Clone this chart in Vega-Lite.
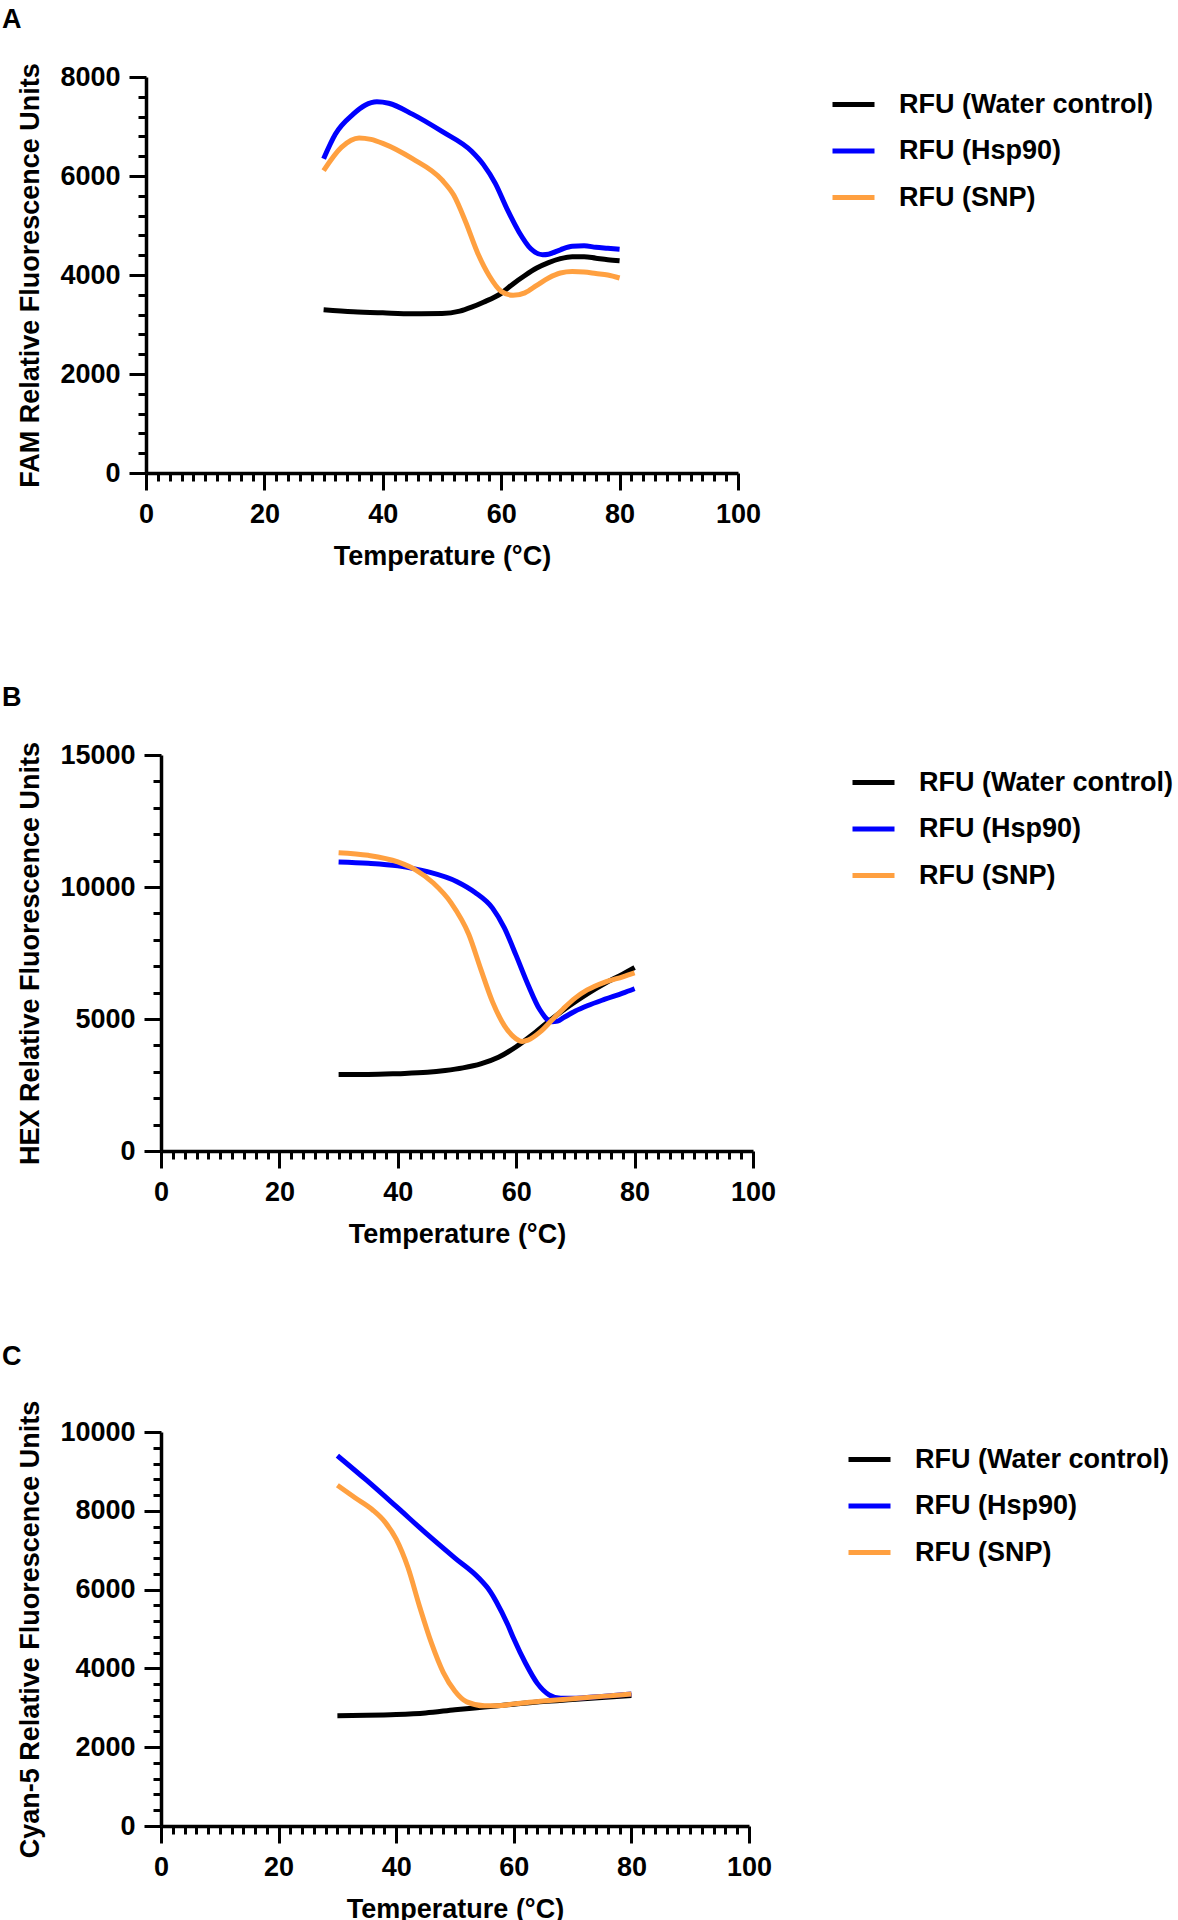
{
  "$schema": "https://vega.github.io/schema/vega-lite/v6.json",
  "background": "white",
  "padding": {"left": 0, "top": 5, "right": 0, "bottom": 0},
  "datasets": {
    "panelA": [
      {"temp": 30, "rfu": 3300, "series": "RFU (Water control)"},
      {"temp": 35, "rfu": 3260, "series": "RFU (Water control)"},
      {"temp": 40, "rfu": 3235, "series": "RFU (Water control)"},
      {"temp": 45, "rfu": 3215, "series": "RFU (Water control)"},
      {"temp": 50, "rfu": 3220, "series": "RFU (Water control)"},
      {"temp": 53, "rfu": 3270, "series": "RFU (Water control)"},
      {"temp": 55, "rfu": 3350, "series": "RFU (Water control)"},
      {"temp": 57, "rfu": 3450, "series": "RFU (Water control)"},
      {"temp": 60, "rfu": 3630, "series": "RFU (Water control)"},
      {"temp": 62, "rfu": 3820, "series": "RFU (Water control)"},
      {"temp": 64, "rfu": 3990, "series": "RFU (Water control)"},
      {"temp": 66, "rfu": 4140, "series": "RFU (Water control)"},
      {"temp": 68, "rfu": 4250, "series": "RFU (Water control)"},
      {"temp": 70, "rfu": 4330, "series": "RFU (Water control)"},
      {"temp": 72, "rfu": 4370, "series": "RFU (Water control)"},
      {"temp": 74, "rfu": 4370, "series": "RFU (Water control)"},
      {"temp": 76, "rfu": 4340, "series": "RFU (Water control)"},
      {"temp": 78, "rfu": 4310, "series": "RFU (Water control)"},
      {"temp": 80, "rfu": 4290, "series": "RFU (Water control)"},
      {"temp": 30, "rfu": 6350, "series": "RFU (Hsp90)"},
      {"temp": 32, "rfu": 6850, "series": "RFU (Hsp90)"},
      {"temp": 35, "rfu": 7250, "series": "RFU (Hsp90)"},
      {"temp": 37, "rfu": 7430, "series": "RFU (Hsp90)"},
      {"temp": 39, "rfu": 7500, "series": "RFU (Hsp90)"},
      {"temp": 41, "rfu": 7470, "series": "RFU (Hsp90)"},
      {"temp": 45, "rfu": 7250, "series": "RFU (Hsp90)"},
      {"temp": 50, "rfu": 6900, "series": "RFU (Hsp90)"},
      {"temp": 55, "rfu": 6500, "series": "RFU (Hsp90)"},
      {"temp": 57, "rfu": 6230, "series": "RFU (Hsp90)"},
      {"temp": 59, "rfu": 5850, "series": "RFU (Hsp90)"},
      {"temp": 61, "rfu": 5330, "series": "RFU (Hsp90)"},
      {"temp": 63, "rfu": 4870, "series": "RFU (Hsp90)"},
      {"temp": 65, "rfu": 4530, "series": "RFU (Hsp90)"},
      {"temp": 67, "rfu": 4410, "series": "RFU (Hsp90)"},
      {"temp": 68, "rfu": 4420, "series": "RFU (Hsp90)"},
      {"temp": 70, "rfu": 4510, "series": "RFU (Hsp90)"},
      {"temp": 72, "rfu": 4580, "series": "RFU (Hsp90)"},
      {"temp": 74, "rfu": 4590, "series": "RFU (Hsp90)"},
      {"temp": 76, "rfu": 4560, "series": "RFU (Hsp90)"},
      {"temp": 78, "rfu": 4540, "series": "RFU (Hsp90)"},
      {"temp": 80, "rfu": 4520, "series": "RFU (Hsp90)"},
      {"temp": 30, "rfu": 6110, "series": "RFU (SNP)"},
      {"temp": 33, "rfu": 6580, "series": "RFU (SNP)"},
      {"temp": 36, "rfu": 6770, "series": "RFU (SNP)"},
      {"temp": 38, "rfu": 6740, "series": "RFU (SNP)"},
      {"temp": 40, "rfu": 6660, "series": "RFU (SNP)"},
      {"temp": 45, "rfu": 6350, "series": "RFU (SNP)"},
      {"temp": 50, "rfu": 5920, "series": "RFU (SNP)"},
      {"temp": 52, "rfu": 5610, "series": "RFU (SNP)"},
      {"temp": 54, "rfu": 5070, "series": "RFU (SNP)"},
      {"temp": 56, "rfu": 4450, "series": "RFU (SNP)"},
      {"temp": 58, "rfu": 3980, "series": "RFU (SNP)"},
      {"temp": 60, "rfu": 3670, "series": "RFU (SNP)"},
      {"temp": 62, "rfu": 3590, "series": "RFU (SNP)"},
      {"temp": 64, "rfu": 3640, "series": "RFU (SNP)"},
      {"temp": 66, "rfu": 3790, "series": "RFU (SNP)"},
      {"temp": 68, "rfu": 3940, "series": "RFU (SNP)"},
      {"temp": 70, "rfu": 4040, "series": "RFU (SNP)"},
      {"temp": 72, "rfu": 4070, "series": "RFU (SNP)"},
      {"temp": 74, "rfu": 4060, "series": "RFU (SNP)"},
      {"temp": 76, "rfu": 4030, "series": "RFU (SNP)"},
      {"temp": 78, "rfu": 4000, "series": "RFU (SNP)"},
      {"temp": 80, "rfu": 3940, "series": "RFU (SNP)"}
    ],
    "panelB": [
      {"temp": 30, "rfu": 2900, "series": "RFU (Water control)"},
      {"temp": 35, "rfu": 2900, "series": "RFU (Water control)"},
      {"temp": 40, "rfu": 2930, "series": "RFU (Water control)"},
      {"temp": 45, "rfu": 2980, "series": "RFU (Water control)"},
      {"temp": 48, "rfu": 3050, "series": "RFU (Water control)"},
      {"temp": 51, "rfu": 3150, "series": "RFU (Water control)"},
      {"temp": 54, "rfu": 3300, "series": "RFU (Water control)"},
      {"temp": 57, "rfu": 3550, "series": "RFU (Water control)"},
      {"temp": 60, "rfu": 3950, "series": "RFU (Water control)"},
      {"temp": 63, "rfu": 4450, "series": "RFU (Water control)"},
      {"temp": 66, "rfu": 5000, "series": "RFU (Water control)"},
      {"temp": 69, "rfu": 5500, "series": "RFU (Water control)"},
      {"temp": 72, "rfu": 5950, "series": "RFU (Water control)"},
      {"temp": 75, "rfu": 6350, "series": "RFU (Water control)"},
      {"temp": 78, "rfu": 6700, "series": "RFU (Water control)"},
      {"temp": 80, "rfu": 6950, "series": "RFU (Water control)"},
      {"temp": 30, "rfu": 10950, "series": "RFU (Hsp90)"},
      {"temp": 35, "rfu": 10900, "series": "RFU (Hsp90)"},
      {"temp": 40, "rfu": 10800, "series": "RFU (Hsp90)"},
      {"temp": 45, "rfu": 10580, "series": "RFU (Hsp90)"},
      {"temp": 50, "rfu": 10200, "series": "RFU (Hsp90)"},
      {"temp": 53, "rfu": 9800, "series": "RFU (Hsp90)"},
      {"temp": 56, "rfu": 9200, "series": "RFU (Hsp90)"},
      {"temp": 58, "rfu": 8450, "series": "RFU (Hsp90)"},
      {"temp": 60, "rfu": 7400, "series": "RFU (Hsp90)"},
      {"temp": 62, "rfu": 6300, "series": "RFU (Hsp90)"},
      {"temp": 64, "rfu": 5350, "series": "RFU (Hsp90)"},
      {"temp": 66, "rfu": 4900, "series": "RFU (Hsp90)"},
      {"temp": 67, "rfu": 4920, "series": "RFU (Hsp90)"},
      {"temp": 68, "rfu": 5050, "series": "RFU (Hsp90)"},
      {"temp": 70, "rfu": 5300, "series": "RFU (Hsp90)"},
      {"temp": 72, "rfu": 5500, "series": "RFU (Hsp90)"},
      {"temp": 75, "rfu": 5750, "series": "RFU (Hsp90)"},
      {"temp": 78, "rfu": 5980, "series": "RFU (Hsp90)"},
      {"temp": 80, "rfu": 6150, "series": "RFU (Hsp90)"},
      {"temp": 30, "rfu": 11300, "series": "RFU (SNP)"},
      {"temp": 35, "rfu": 11200, "series": "RFU (SNP)"},
      {"temp": 40, "rfu": 10950, "series": "RFU (SNP)"},
      {"temp": 43, "rfu": 10650, "series": "RFU (SNP)"},
      {"temp": 46, "rfu": 10150, "series": "RFU (SNP)"},
      {"temp": 49, "rfu": 9400, "series": "RFU (SNP)"},
      {"temp": 52, "rfu": 8200, "series": "RFU (SNP)"},
      {"temp": 54, "rfu": 6900, "series": "RFU (SNP)"},
      {"temp": 56, "rfu": 5650, "series": "RFU (SNP)"},
      {"temp": 58, "rfu": 4750, "series": "RFU (SNP)"},
      {"temp": 60, "rfu": 4250, "series": "RFU (SNP)"},
      {"temp": 61, "rfu": 4150, "series": "RFU (SNP)"},
      {"temp": 62, "rfu": 4200, "series": "RFU (SNP)"},
      {"temp": 64, "rfu": 4500, "series": "RFU (SNP)"},
      {"temp": 66, "rfu": 4950, "series": "RFU (SNP)"},
      {"temp": 68, "rfu": 5400, "series": "RFU (SNP)"},
      {"temp": 70, "rfu": 5800, "series": "RFU (SNP)"},
      {"temp": 72, "rfu": 6100, "series": "RFU (SNP)"},
      {"temp": 75, "rfu": 6400, "series": "RFU (SNP)"},
      {"temp": 78, "rfu": 6600, "series": "RFU (SNP)"},
      {"temp": 80, "rfu": 6750, "series": "RFU (SNP)"}
    ],
    "panelC": [
      {"temp": 30, "rfu": 2800, "series": "RFU (Water control)"},
      {"temp": 35, "rfu": 2810, "series": "RFU (Water control)"},
      {"temp": 40, "rfu": 2830, "series": "RFU (Water control)"},
      {"temp": 45, "rfu": 2870, "series": "RFU (Water control)"},
      {"temp": 50, "rfu": 2950, "series": "RFU (Water control)"},
      {"temp": 55, "rfu": 3020, "series": "RFU (Water control)"},
      {"temp": 60, "rfu": 3090, "series": "RFU (Water control)"},
      {"temp": 65, "rfu": 3160, "series": "RFU (Water control)"},
      {"temp": 70, "rfu": 3210, "series": "RFU (Water control)"},
      {"temp": 75, "rfu": 3260, "series": "RFU (Water control)"},
      {"temp": 80, "rfu": 3310, "series": "RFU (Water control)"},
      {"temp": 30, "rfu": 9400, "series": "RFU (Hsp90)"},
      {"temp": 35, "rfu": 8770, "series": "RFU (Hsp90)"},
      {"temp": 40, "rfu": 8110, "series": "RFU (Hsp90)"},
      {"temp": 45, "rfu": 7440, "series": "RFU (Hsp90)"},
      {"temp": 50, "rfu": 6800, "series": "RFU (Hsp90)"},
      {"temp": 54, "rfu": 6300, "series": "RFU (Hsp90)"},
      {"temp": 56, "rfu": 5950, "series": "RFU (Hsp90)"},
      {"temp": 57, "rfu": 5700, "series": "RFU (Hsp90)"},
      {"temp": 59, "rfu": 5100, "series": "RFU (Hsp90)"},
      {"temp": 60, "rfu": 4750, "series": "RFU (Hsp90)"},
      {"temp": 62, "rfu": 4130, "series": "RFU (Hsp90)"},
      {"temp": 64, "rfu": 3620, "series": "RFU (Hsp90)"},
      {"temp": 66, "rfu": 3330, "series": "RFU (Hsp90)"},
      {"temp": 68, "rfu": 3240, "series": "RFU (Hsp90)"},
      {"temp": 70, "rfu": 3240, "series": "RFU (Hsp90)"},
      {"temp": 75, "rfu": 3290, "series": "RFU (Hsp90)"},
      {"temp": 80, "rfu": 3350, "series": "RFU (Hsp90)"},
      {"temp": 30, "rfu": 8650, "series": "RFU (SNP)"},
      {"temp": 33, "rfu": 8330, "series": "RFU (SNP)"},
      {"temp": 36, "rfu": 8020, "series": "RFU (SNP)"},
      {"temp": 38, "rfu": 7730, "series": "RFU (SNP)"},
      {"temp": 40, "rfu": 7280, "series": "RFU (SNP)"},
      {"temp": 42, "rfu": 6560, "series": "RFU (SNP)"},
      {"temp": 44, "rfu": 5560, "series": "RFU (SNP)"},
      {"temp": 46, "rfu": 4640, "series": "RFU (SNP)"},
      {"temp": 48, "rfu": 3900, "series": "RFU (SNP)"},
      {"temp": 50, "rfu": 3420, "series": "RFU (SNP)"},
      {"temp": 52, "rfu": 3150, "series": "RFU (SNP)"},
      {"temp": 55, "rfu": 3050, "series": "RFU (SNP)"},
      {"temp": 58, "rfu": 3060, "series": "RFU (SNP)"},
      {"temp": 60, "rfu": 3100, "series": "RFU (SNP)"},
      {"temp": 65, "rfu": 3170, "series": "RFU (SNP)"},
      {"temp": 70, "rfu": 3230, "series": "RFU (SNP)"},
      {"temp": 75, "rfu": 3290, "series": "RFU (SNP)"},
      {"temp": 80, "rfu": 3350, "series": "RFU (SNP)"}
    ]
  },
  "vconcat": [
    {
      "hconcat": [
        {"width": 1, "height": 1, "data": {"values": []}, "mark": {"type": "point", "opacity": 0}},
        {
          "title": {"text": "A", "anchor": "start", "dx": -15, "offset": 8, "baseline": "alphabetic"},
          "width": 592,
          "height": 396,
          "data": {"name": "panelA"},
          "mark": {"type": "line", "strokeWidth": 5, "interpolate": "monotone"},
          "encoding": {
            "x": {
              "field": "temp", "type": "quantitative", "title": "Temperature (°C)",
              "scale": {"domain": [0, 100], "nice": false},
              "axis": {
                "values": [0,2,4,6,8,10,12,14,16,18,20,22,24,26,28,30,32,34,36,38,40,42,44,46,48,50,52,54,56,58,60,62,64,66,68,70,72,74,76,78,80,82,84,86,88,90,92,94,96,98,100],
                "labelExpr": "datum.value % 20 === 0 ? datum.label : ''",
                "tickSize": {"condition": {"test": "datum.value % 20 === 0", "value": 17}, "value": 8}
              }
            },
            "y": {
              "field": "rfu", "type": "quantitative", "title": "FAM Relative Fluorescence Units",
              "scale": {"domain": [0, 8000], "nice": false},
              "axis": {
                "values": [0,400,800,1200,1600,2000,2400,2800,3200,3600,4000,4400,4800,5200,5600,6000,6400,6800,7200,7600,8000],
                "labelExpr": "datum.value % 2000 === 0 ? datum.label : ''",
                "tickSize": {"condition": {"test": "datum.value % 2000 === 0", "value": 17}, "value": 8}
              }
            },
            "color": {
              "field": "series", "type": "nominal", "sort": null,
              "scale": {"domain": ["RFU (Water control)", "RFU (Hsp90)", "RFU (SNP)"], "range": ["#000000", "#0000FF", "#FFA040"]}
            }
          }
        }
      ],
      "spacing": 0,
      "resolve": {"scale": {"color": "independent"}, "legend": {"color": "independent"}}
    },
    {
      "vconcat": [
        {
          "hconcat": [
            {"width": 1, "height": 1, "data": {"values": []}, "mark": {"type": "point", "opacity": 0}},
            {
              "title": {"text": "B", "anchor": "start", "dx": -15, "offset": 8, "baseline": "alphabetic"},
              "width": 592,
              "height": 396,
              "data": {"name": "panelB"},
              "mark": {"type": "line", "strokeWidth": 5, "interpolate": "monotone"},
              "encoding": {
                "x": {
                  "field": "temp", "type": "quantitative", "title": "Temperature (°C)",
                  "scale": {"domain": [0, 100], "nice": false},
                  "axis": {
                    "values": [0,2,4,6,8,10,12,14,16,18,20,22,24,26,28,30,32,34,36,38,40,42,44,46,48,50,52,54,56,58,60,62,64,66,68,70,72,74,76,78,80,82,84,86,88,90,92,94,96,98,100],
                    "labelExpr": "datum.value % 20 === 0 ? datum.label : ''",
                    "tickSize": {"condition": {"test": "datum.value % 20 === 0", "value": 17}, "value": 8}
                  }
                },
                "y": {
                  "field": "rfu", "type": "quantitative", "title": "HEX Relative Fluorescence Units",
                  "scale": {"domain": [0, 15000], "nice": false},
                  "axis": {
                    "values": [0,1000,2000,3000,4000,5000,6000,7000,8000,9000,10000,11000,12000,13000,14000,15000],
                    "labelExpr": "datum.value % 5000 === 0 ? datum.label : ''",
                    "tickSize": {"condition": {"test": "datum.value % 5000 === 0", "value": 17}, "value": 8}
                  }
                },
                "color": {
                  "field": "series", "type": "nominal", "sort": null,
                  "scale": {"domain": ["RFU (Water control)", "RFU (Hsp90)", "RFU (SNP)"], "range": ["#000000", "#0000FF", "#FFA040"]},
                  "legend": {"offset": 93}
                }
              }
            }
          ],
          "spacing": 0,
          "resolve": {"scale": {"color": "independent"}, "legend": {"color": "independent"}}
        },
        {
          "hconcat": [
            {"width": 1, "height": 1, "data": {"values": []}, "mark": {"type": "point", "opacity": 0}},
            {
              "title": {"text": "C", "anchor": "start", "dx": -15, "offset": 8, "baseline": "alphabetic"},
              "width": 588,
              "height": 394,
              "data": {"name": "panelC"},
              "mark": {"type": "line", "strokeWidth": 5, "interpolate": "monotone"},
              "encoding": {
                "x": {
                  "field": "temp", "type": "quantitative", "title": "Temperature (°C)",
                  "scale": {"domain": [0, 100], "nice": false},
                  "axis": {
                    "values": [0,2,4,6,8,10,12,14,16,18,20,22,24,26,28,30,32,34,36,38,40,42,44,46,48,50,52,54,56,58,60,62,64,66,68,70,72,74,76,78,80,82,84,86,88,90,92,94,96,98,100],
                    "labelExpr": "datum.value % 20 === 0 ? datum.label : ''",
                    "tickSize": {"condition": {"test": "datum.value % 20 === 0", "value": 17}, "value": 8}
                  }
                },
                "y": {
                  "field": "rfu", "type": "quantitative", "title": "Cyan-5 Relative Fluorescence Units",
                  "scale": {"domain": [0, 10000], "nice": false},
                  "axis": {
                    "values": [0,400,800,1200,1600,2000,2400,2800,3200,3600,4000,4400,4800,5200,5600,6000,6400,6800,7200,7600,8000,8400,8800,9200,9600,10000],
                    "labelExpr": "datum.value % 2000 === 0 ? datum.label : ''",
                    "tickSize": {"condition": {"test": "datum.value % 2000 === 0", "value": 17}, "value": 8}
                  }
                },
                "color": {
                  "field": "series", "type": "nominal", "sort": null,
                  "scale": {"domain": ["RFU (Water control)", "RFU (Hsp90)", "RFU (SNP)"], "range": ["#000000", "#0000FF", "#FFA040"]},
                  "legend": {"offset": 93}
                }
              }
            }
          ],
          "spacing": 0,
          "resolve": {"scale": {"color": "independent"}, "legend": {"color": "independent"}}
        }
      ],
      "spacing": 96,
      "resolve": {"scale": {"color": "independent"}, "legend": {"color": "independent"}}
    }
  ],
  "spacing": 115,
  "resolve": {"scale": {"color": "independent"}, "legend": {"color": "independent"}},
  "config": {
    "font": "Liberation Sans",
    "view": {"stroke": null},
    "title": {"fontSize": 27, "fontWeight": "bold", "color": "black"},
    "axis": {
      "grid": false,
      "format": "d",
      "domainColor": "black",
      "domainWidth": 3.5,
      "tickColor": "black",
      "tickWidth": 3,
      "labelFontSize": 27,
      "labelFontWeight": "bold",
      "labelColor": "black",
      "labelOverlap": false,
      "labelFlush": false,
      "titleFontSize": 27,
      "titleFontWeight": "bold",
      "titleColor": "black"
    },
    "axisX": {"titlePadding": 16, "labelPadding": 11},
    "axisY": {"titlePadding": 15, "labelPadding": 9},
    "legend": {
      "orient": "right",
      "offset": 88,
      "padding": 4,
      "title": null,
      "symbolType": "stroke",
      "symbolSize": 1764,
      "symbolStrokeWidth": 5,
      "labelFontSize": 27,
      "labelFontWeight": "bold",
      "labelColor": "black",
      "labelLimit": 0,
      "labelOffset": 22,
      "rowPadding": 9.5
    }
  }
}
